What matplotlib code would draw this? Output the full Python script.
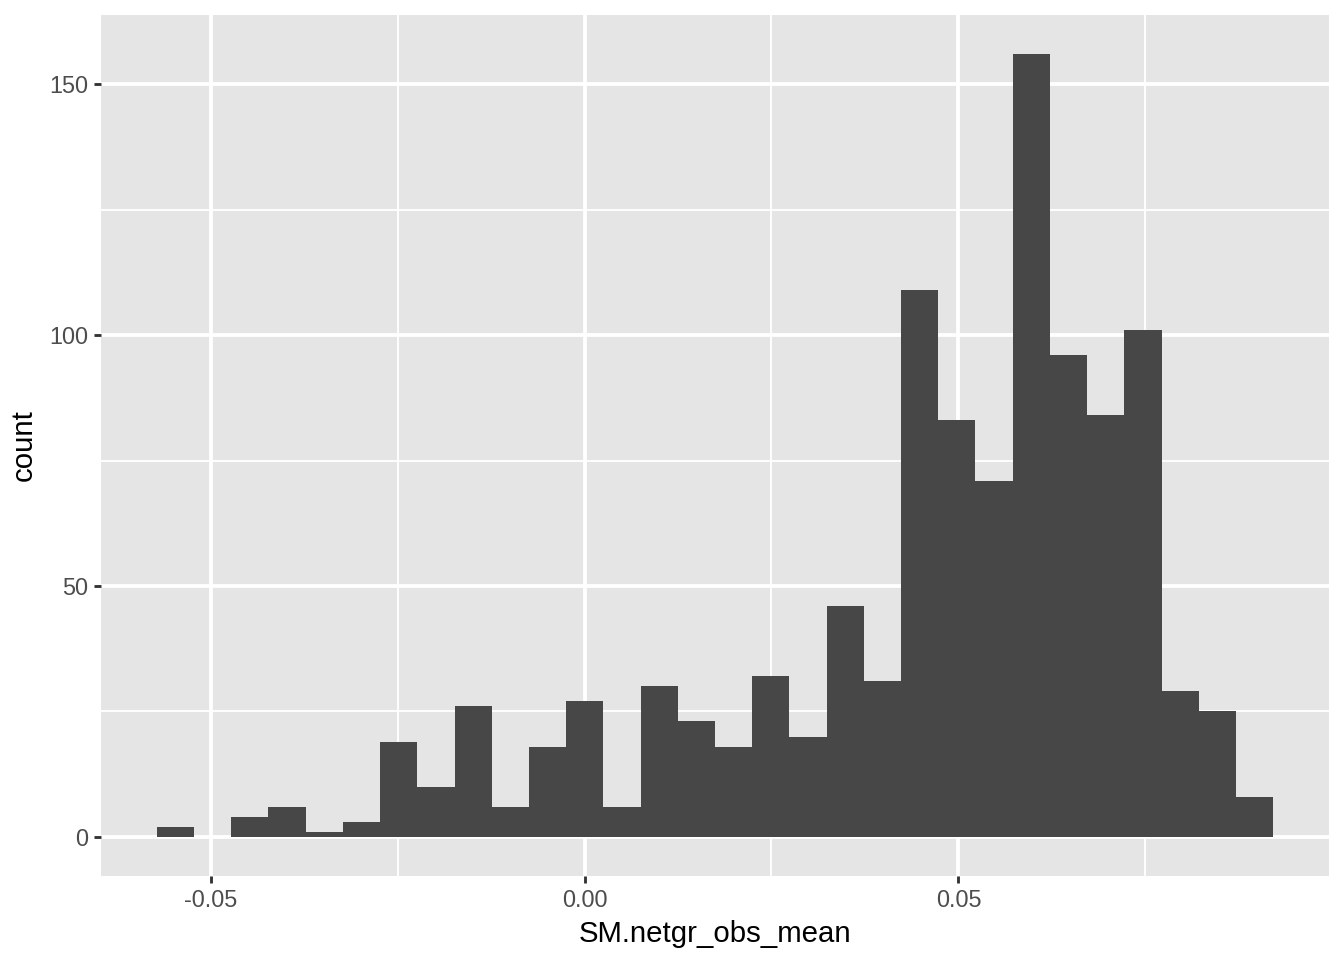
import numpy as np
import matplotlib
matplotlib.use('Agg')
import matplotlib.pyplot as plt

plt.rcParams['font.family'] = ['Liberation Sans', 'DejaVu Sans']

# histogram of SM.netgr_obs_mean, 30 bins
x_min = -0.05722
x_max = 0.09211
counts = [2, 0, 4, 6, 1, 3, 19, 10, 26, 6, 18, 27, 6, 30, 23, 18,
          32, 20, 46, 31, 109, 83, 71, 156, 96, 84, 101, 29, 25, 8]
x_ticks = [-0.05, 0.00, 0.05]
x_ticklabels = ['-0.05', '0.00', '0.05']
x_minor = [-0.025, 0.025, 0.075]
y_ticks = [0, 50, 100, 150]
y_minor = [25, 75, 125]

edges = np.linspace(x_min, x_max, len(counts) + 1)

fig = plt.figure(figsize=(7, 5), dpi=192)
ax = fig.add_axes([101/1344, 1 - 876/960, (1329 - 101)/1344, (876 - 15)/960])
ax.set_facecolor('#E5E5E5')
for s in ax.spines.values():
    s.set_visible(False)

for v in x_minor:
    ax.axvline(v, color='white', lw=0.71, zorder=0)
for v in y_minor:
    ax.axhline(v, color='white', lw=0.71, zorder=0)
for v in x_ticks:
    ax.axvline(v, color='white', lw=1.42, zorder=0)
for v in y_ticks:
    ax.axhline(v, color='white', lw=1.42, zorder=0)

ax.bar(edges[:-1], counts, width=np.diff(edges), align='edge',
       color='#474747', linewidth=0, zorder=2)

rng = x_max - x_min
ax.set_xlim(x_min - 0.05*rng, x_max + 0.05*rng)
ax.set_ylim(-0.05*max(counts), max(counts)*1.05)

ax.set_xticks(x_ticks)
ax.set_xticklabels(x_ticklabels)
ax.set_yticks(y_ticks)
ax.tick_params(length=2.75, width=1.07, color='#333333', labelcolor='#4D4D4D',
               labelsize=8.8, pad=2.2)
ax.set_xlabel('SM.netgr_obs_mean', fontsize=11, color='black', labelpad=3)
ax.set_ylabel('count', fontsize=11, color='black', labelpad=4)

fig.savefig('out.png', dpi=192)
